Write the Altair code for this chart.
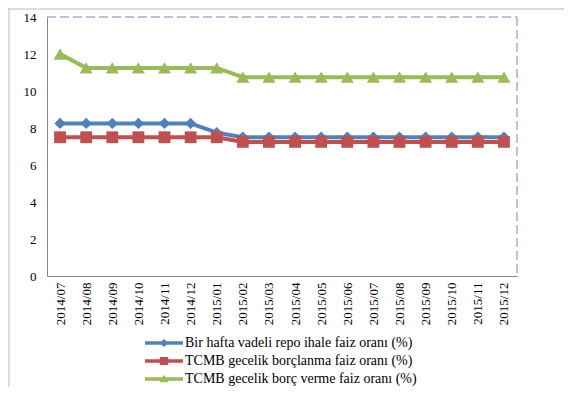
import altair as alt
import pandas as pd

dates = ["2014/07", "2014/08", "2014/09", "2014/10", "2014/11", "2014/12",
         "2015/01", "2015/02", "2015/03", "2015/04", "2015/05", "2015/06",
         "2015/07", "2015/08", "2015/09", "2015/10", "2015/11", "2015/12"]
repo = [8.25, 8.25, 8.25, 8.25, 8.25, 8.25, 7.75, 7.5, 7.5, 7.5, 7.5, 7.5,
        7.5, 7.5, 7.5, 7.5, 7.5, 7.5]
borclanma = [7.5, 7.5, 7.5, 7.5, 7.5, 7.5, 7.5, 7.25, 7.25, 7.25, 7.25, 7.25,
             7.25, 7.25, 7.25, 7.25, 7.25, 7.25]
borc_verme = [12, 11.25, 11.25, 11.25, 11.25, 11.25, 11.25, 10.75, 10.75, 10.75,
              10.75, 10.75, 10.75, 10.75, 10.75, 10.75, 10.75, 10.75]
series_names = ["Bir hafta vadeli repo ihale faiz oranı (%)",
                "TCMB gecelik borçlanma faiz oranı (%)",
                "TCMB gecelik borç verme faiz oranı (%)"]
colors = ["#4F81BD", "#C0504D", "#9BBB59"]
markers = ["diamond", "square", "triangle-up"]
marker_sizes = [130, 140, 170]
legend_paths = [
    "M-1.9,-0.18H1.9V0.18H-1.9Z M0,-0.4L0.45,0L0,0.4L-0.45,0Z",
    "M-1.9,-0.18H1.9V0.18H-1.9Z M-0.42,-0.4H0.42V0.4H-0.42Z",
    "M-1.9,-0.18H1.9V0.18H-1.9Z M0,-0.42L0.45,0.32H-0.45Z",
]
y_ticks = [0, 2, 4, 6, 8, 10, 12, 14]

rows = []
for name, vals in zip(series_names, [repo, borclanma, borc_verme]):
    for d, v in zip(dates, vals):
        rows.append({"date": d, "series": name, "value": v})
df = pd.DataFrame(rows)
one = pd.DataFrame({"k": [0]})

W, H = 470, 259
FONT = "Liberation Serif, Times New Roman, serif"

x_enc = alt.X("date:O", sort=dates, scale=alt.Scale(domain=dates, padding=0.5),
              axis=alt.Axis(title=None, labelAngle=-90, labelPadding=6, ticks=False,
                            domainColor="#868686", labelFont=FONT, labelFontSize=13,
                            labelColor="black", grid=False))
y_enc = alt.Y("value:Q", scale=alt.Scale(domain=[0, 14], nice=False),
              axis=alt.Axis(title=None, values=y_ticks, ticks=False, labelPadding=11,
                            domainColor="#868686", labelFont=FONT, labelFontSize=13,
                            labelColor="black", grid=False))

dash_col = "#9BB3DA"
frame_col = "#C6D3E8"
top_dash = alt.Chart(one).mark_rule(color=dash_col, strokeWidth=1.5, strokeDash=[9, 4]).encode(
    x=alt.value(0), x2=alt.value(W), y=alt.value(0))
right_dash = alt.Chart(one).mark_rule(color=dash_col, strokeWidth=1.5, strokeDash=[9, 4]).encode(
    x=alt.value(W), y=alt.value(0), y2=alt.value(H))
frame_left = alt.Chart(one).mark_rule(color=frame_col, strokeWidth=1.5).encode(
    x=alt.value(-38), y=alt.value(-9), y2=alt.value(375))
frame_top = alt.Chart(one).mark_rule(color=frame_col, strokeWidth=1.5).encode(
    x=alt.value(-39), x2=alt.value(520), y=alt.value(-8))

base = alt.Chart(df)
layers = [frame_left, frame_top, top_dash, right_dash]
for name, col, shp, sz in zip(series_names, colors, markers, marker_sizes):
    layers.append(
        base.transform_filter(alt.datum.series == name)
        .mark_line(color=col, strokeWidth=4,
                   point=alt.OverlayMarkDef(shape=shp, size=sz, filled=True,
                                            color=col, opacity=1))
        .encode(x=x_enc, y=y_enc)
    )

legend = alt.Legend(title=None, orient="none", legendX=107, legendY=316,
                    direction="vertical", symbolSize=400, symbolStrokeWidth=0,
                    labelFont=FONT, labelFontSize=14, labelColor="black",
                    labelOffset=11, rowPadding=1, labelLimit=400)
legend_layer = base.transform_filter("false").mark_point(filled=True, opacity=1).encode(
    x=x_enc, y=y_enc,
    color=alt.Color("series:N", scale=alt.Scale(domain=series_names, range=colors),
                    legend=legend),
    shape=alt.Shape("series:N", scale=alt.Scale(domain=series_names, range=legend_paths),
                    legend=legend),
)
layers.append(legend_layer)

chart = (
    alt.layer(*layers)
    .properties(width=W, height=H,
                padding={"left": 39, "top": 9, "right": 47, "bottom": 111},
                autosize=alt.AutoSizeParams(type="none"))
    .configure_view(stroke=None)
)
chart.save("out.html", embed_options={"renderer": "svg", "actions": False})
